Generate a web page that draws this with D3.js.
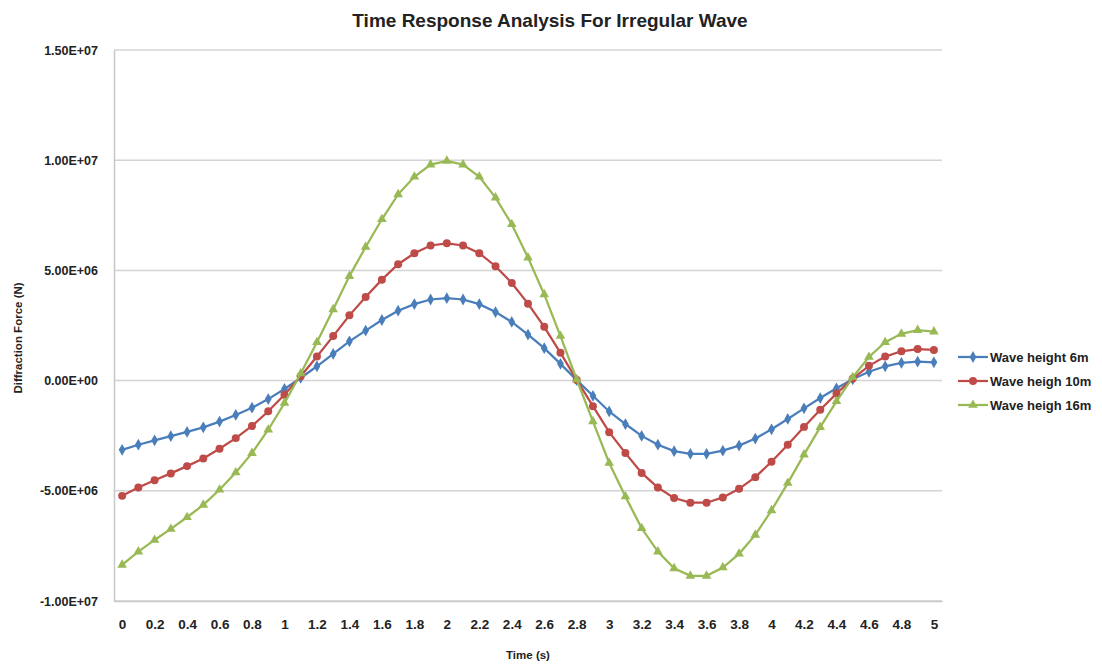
<!DOCTYPE html>
<html>
<head>
<meta charset="utf-8">
<script src="https://cdn.jsdelivr.net/npm/d3@7"></script>
<style>
	body { margin: 0; background: #fff; }
	text { font-family: "Liberation Sans", Arial, sans-serif; fill: #222; }
</style>
</head>
<body>
<div id="chart"></div>
<script>

// Time steps (s)
var times = ["0","0.1","0.2","0.3","0.4","0.5","0.6","0.7","0.8","0.9",
	"1","1.1","1.2","1.3","1.4","1.5","1.6","1.7","1.8","1.9",
	"2","2.1","2.2","2.3","2.4","2.5","2.6","2.7","2.8","2.9",
	"3","3.1","3.2","3.3","3.4","3.5","3.6","3.7","3.8","3.9",
	"4","4.1","4.2","4.3","4.4","4.5","4.6","4.7","4.8","4.9","5"];

// Diffraction force, in units of 1e6 N
var wave6 = [-3.14,-2.91,-2.71,-2.52,-2.33,-2.12,-1.86,-1.56,-1.23,-0.84,
	-0.38,0.12,0.65,1.21,1.78,2.27,2.75,3.17,3.47,3.68,
	3.74,3.68,3.47,3.11,2.66,2.09,1.47,0.76,0.02,-0.69,
	-1.40,-1.97,-2.51,-2.91,-3.20,-3.32,-3.32,-3.18,-2.95,-2.63,
	-2.21,-1.74,-1.26,-0.79,-0.35,0.06,0.40,0.65,0.80,0.86,0.83];

var wave10 = [-5.23,-4.85,-4.52,-4.21,-3.88,-3.53,-3.09,-2.61,-2.06,-1.39,
	-0.64,0.20,1.09,2.02,2.96,3.79,4.58,5.28,5.78,6.13,
	6.23,6.13,5.78,5.19,4.43,3.49,2.44,1.26,0.03,-1.16,
	-2.34,-3.29,-4.19,-4.85,-5.33,-5.54,-5.54,-5.30,-4.91,-4.38,
	-3.68,-2.91,-2.10,-1.32,-0.59,0.09,0.67,1.09,1.33,1.43,1.39];

var wave16 = [-8.36,-7.76,-7.23,-6.73,-6.20,-5.64,-4.95,-4.17,-3.29,-2.23,
	-1.02,0.32,1.74,3.23,4.74,6.06,7.32,8.45,9.25,9.80,
	9.97,9.80,9.25,8.30,7.09,5.58,3.91,2.02,0.05,-1.85,
	-3.74,-5.26,-6.70,-7.76,-8.52,-8.86,-8.86,-8.48,-7.86,-7.00,
	-5.89,-4.65,-3.36,-2.11,-0.94,0.15,1.07,1.74,2.12,2.29,2.22];

var seriesNames = ["Wave height 6m", "Wave heigh 10m", "Wave heigh 16m"];
var yTicks = [-1e7, -5e6, 0, 5e6, 1e7, 1.5e7];

var colors = ["#4a7ebb", "#be4b48", "#98b954"];
var symbols = [d3.symbolDiamond, d3.symbolCircle, d3.symbolTriangle];
var symbolSizes = [40, 50, 40];

var series = [wave6, wave10, wave16].map(function(vals, i) {
	return {
		name: seriesNames[i],
		values: vals.map(function(v, j) { return {t: times[j], v: v * 1e6}; })
	};
});

var width = 1102, height = 664;
var plot = {left: 114, right: 942, top: 50, bottom: 601};

var svg = d3.select("#chart").append("svg")
	.attr("width", width)
	.attr("height", height);

var x = d3.scalePoint()
	.domain(times)
	.range([plot.left, plot.right])
	.padding(0.5);

var y = d3.scaleLinear()
	.domain([-1e7, 1.5e7])
	.range([plot.bottom, plot.top]);

// Excel style 0.00E+00, plain hyphen for minus
function sci(v) {
	if (v === 0) return "0.00E+00";
	var s = d3.format(".2e")(Math.abs(v)).split("e");
	var exp = +s[1];
	return (v < 0 ? "-" : "") + s[0] + "E" + (exp < 0 ? "-" : "+") + d3.format("02")(Math.abs(exp));
}

// Gridlines
svg.append("g")
	.selectAll("line")
	.data(yTicks)
	.enter().append("line")
	.attr("x1", plot.left)
	.attr("x2", plot.right)
	.attr("y1", function(d) { return y(d); })
	.attr("y2", function(d) { return y(d); })
	.style("stroke", "#d4d4d4")
	.style("stroke-width", 1.5);

// Y axis
var yAxis = d3.axisLeft(y)
	.tickValues(yTicks)
	.tickSize(0)
	.tickPadding(16)
	.tickFormat(sci);

var yG = svg.append("g")
	.attr("transform", "translate(" + plot.left + ",0)")
	.call(yAxis);
yG.select(".domain").style("stroke", "#c8c8c8").style("stroke-width", 1.5);
yG.selectAll("text")
	.style("font-size", "12.5px")
	.style("font-weight", "bold")
	.style("fill", "#222");

// X axis
var xAxis = d3.axisBottom(x)
	.tickValues(times.filter(function(d, i) { return i % 2 === 0; }))
	.tickSize(0)
	.tickPadding(18);

var xG = svg.append("g")
	.attr("transform", "translate(0," + plot.bottom + ")")
	.call(xAxis);
xG.select(".domain").style("stroke", "#c8c8c8").style("stroke-width", 1.5);
xG.selectAll("text")
	.style("font-size", "13.5px")
	.style("font-weight", "bold")
	.style("fill", "#222");

// Lines
var line = d3.line()
	.x(function(d) { return x(d.t); })
	.y(function(d) { return y(d.v); });

var groups = svg.selectAll(".series")
	.data(series)
	.enter().append("g")
	.attr("class", "series");

groups.append("path")
	.attr("d", function(d) { return line(d.values); })
	.style("fill", "none")
	.style("stroke", function(d, i) { return colors[i]; })
	.style("stroke-width", 2.25);

groups.each(function(s, i) {
	d3.select(this).selectAll(".marker")
		.data(s.values)
		.enter().append("path")
		.attr("class", "marker")
		.attr("d", d3.symbol().type(symbols[i]).size(symbolSizes[i]))
		.attr("transform", function(d) { return "translate(" + x(d.t) + "," + y(d.v) + ")"; })
		.style("fill", colors[i]);
});

// Title
svg.append("text")
	.attr("x", 550)
	.attr("y", 27)
	.style("text-anchor", "middle")
	.style("font-size", "19px")
	.style("font-weight", "bold")
	.text("Time Response Analysis For Irregular Wave");

// Axis titles
svg.append("text")
	.attr("x", 528)
	.attr("y", 659)
	.style("text-anchor", "middle")
	.style("font-size", "11.5px")
	.style("font-weight", "bold")
	.text("Time (s)");

svg.append("text")
	.attr("transform", "translate(22,338) rotate(-90)")
	.style("text-anchor", "middle")
	.style("font-size", "11.5px")
	.style("font-weight", "bold")
	.text("Diffraction Force (N)");

// Legend
var legend = svg.selectAll(".legend")
	.data(series)
	.enter().append("g")
	.attr("class", "legend")
	.attr("transform", function(d, i) { return "translate(958," + (357 + i * 24) + ")"; });

legend.append("line")
	.attr("x1", 0)
	.attr("x2", 30)
	.style("stroke", function(d, i) { return colors[i]; })
	.style("stroke-width", 2.25);

legend.append("path")
	.attr("d", function(d, i) { return d3.symbol().type(symbols[i]).size(symbolSizes[i])(); })
	.attr("transform", "translate(15,0)")
	.style("fill", function(d, i) { return colors[i]; });

legend.append("text")
	.attr("x", 32)
	.attr("dy", "0.35em")
	.style("font-size", "13px")
	.style("font-weight", "bold")
	.text(function(d) { return d.name; });

</script>
</body>
</html>
